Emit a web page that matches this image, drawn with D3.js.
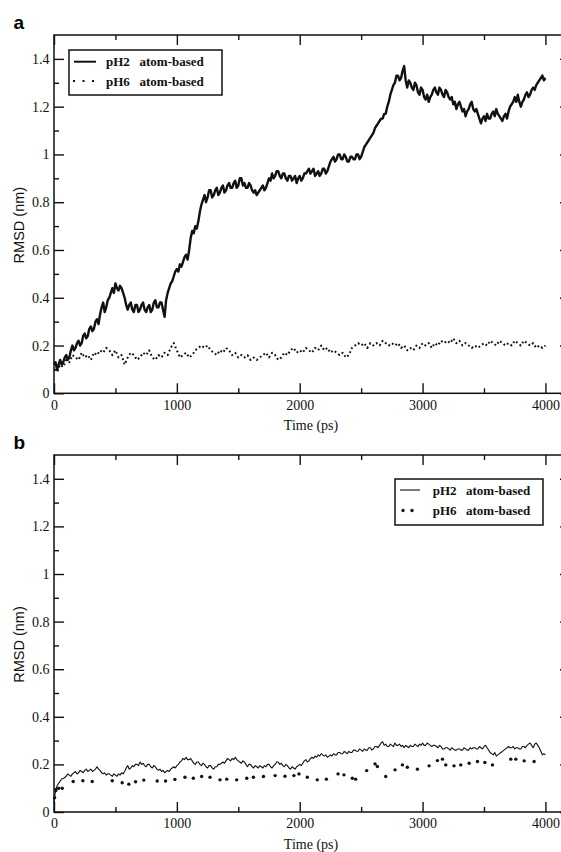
<!DOCTYPE html>
<html>
<head>
<meta charset="utf-8">
<script src="https://cdn.jsdelivr.net/npm/d3@7"></script>
<style>
body { margin: 0; background: #fff; }
svg { display: block; }
.tick text { font-family: "Liberation Serif", "Times New Roman", serif; font-size: 14px; fill: #111; }
.tick line { stroke: #111; stroke-width: 1.4; }
.legend-text { font-family: "Liberation Serif", "Times New Roman", serif; font-size: 13px; font-weight: bold; fill: #111; }
</style>
</head>
<body>
<svg width="561" height="852"></svg>
<script>
// Tick values and labels
const xTicks = [0, 1000, 2000, 3000, 4000]
const xMinor = [500, 1500, 2500, 3500]
const yTicks = [0, 0.2, 0.4, 0.6, 0.8, 1, 1.2, 1.4]
const yTickLabels = ['0', '0.2', '0.4', '0.6', '0.8', '1', '1.2', '1.4']
const yMinor = [0.1, 0.3, 0.5, 0.7, 0.9, 1.1, 1.3]

// Time axes (ps)
const time = d3.range(0, 4001, 25)
const timeFine = d3.range(0, 4000.1, 12.5)

// Panel a, pH2 atom-based (nm), every 12.5 ps
const aPH2 = [
  0.12, 0.13, 0.10, 0.12, 0.14, 0.12, 0.13, 0.15, 0.16, 0.14, 0.15, 0.18, 0.20, 0.18, 0.19, 0.21,
  0.22, 0.20, 0.21, 0.24, 0.25, 0.23, 0.24, 0.27, 0.28, 0.26, 0.27, 0.30, 0.31, 0.29, 0.33, 0.36,
  0.38, 0.34, 0.36, 0.39, 0.40, 0.42, 0.44, 0.42, 0.46, 0.44, 0.43, 0.45, 0.44, 0.42, 0.40, 0.37,
  0.35, 0.37, 0.38, 0.35, 0.34, 0.37, 0.37, 0.34, 0.35, 0.37, 0.38, 0.35, 0.34, 0.36, 0.37, 0.34,
  0.35, 0.38, 0.39, 0.36, 0.36, 0.38, 0.38, 0.35, 0.32, 0.39, 0.42, 0.44, 0.46, 0.47, 0.49, 0.51,
  0.52, 0.51, 0.54, 0.53, 0.55, 0.57, 0.58, 0.56, 0.60, 0.65, 0.68, 0.67, 0.70, 0.69, 0.72, 0.76,
  0.79, 0.81, 0.83, 0.80, 0.82, 0.85, 0.85, 0.82, 0.83, 0.85, 0.86, 0.83, 0.84, 0.86, 0.87, 0.84,
  0.85, 0.87, 0.88, 0.86, 0.86, 0.88, 0.89, 0.86, 0.87, 0.90, 0.90, 0.87, 0.88, 0.86, 0.86, 0.88,
  0.87, 0.85, 0.84, 0.85, 0.83, 0.84, 0.85, 0.86, 0.87, 0.85, 0.86, 0.88, 0.90, 0.89, 0.92, 0.90,
  0.91, 0.93, 0.93, 0.91, 0.90, 0.92, 0.92, 0.90, 0.89, 0.91, 0.91, 0.89, 0.90, 0.91, 0.88, 0.90,
  0.91, 0.89, 0.90, 0.92, 0.92, 0.93, 0.94, 0.92, 0.93, 0.94, 0.91, 0.92, 0.93, 0.91, 0.92, 0.94,
  0.94, 0.92, 0.93, 0.95, 0.97, 0.98, 0.99, 0.97, 0.98, 1.00, 1.00, 0.98, 0.98, 1.00, 0.99, 0.97,
  0.97, 0.99, 0.99, 0.98, 0.98, 1.00, 1.00, 0.98, 0.99, 1.01, 1.03, 1.04, 1.05, 1.06, 1.07, 1.08,
  1.09, 1.11, 1.12, 1.13, 1.14, 1.15, 1.15, 1.17, 1.17, 1.20, 1.22, 1.25, 1.27, 1.29, 1.30, 1.33,
  1.33, 1.31, 1.32, 1.35, 1.37, 1.31, 1.28, 1.31, 1.30, 1.28, 1.27, 1.30, 1.29, 1.26, 1.25, 1.28,
  1.27, 1.24, 1.23, 1.25, 1.22, 1.24, 1.25, 1.27, 1.28, 1.26, 1.25, 1.28, 1.27, 1.25, 1.24, 1.27,
  1.26, 1.24, 1.23, 1.24, 1.21, 1.22, 1.19, 1.21, 1.22, 1.20, 1.18, 1.19, 1.16, 1.18, 1.19, 1.21,
  1.22, 1.19, 1.18, 1.19, 1.17, 1.15, 1.13, 1.15, 1.16, 1.14, 1.17, 1.15, 1.15, 1.17, 1.18, 1.16,
  1.19, 1.17, 1.16, 1.15, 1.14, 1.16, 1.17, 1.15, 1.18, 1.20, 1.21, 1.22, 1.24, 1.22, 1.25, 1.22,
  1.20, 1.22, 1.23, 1.25, 1.26, 1.24, 1.25, 1.27, 1.28, 1.27, 1.29, 1.30, 1.31, 1.32, 1.33, 1.31,
  1.32
]

// Panel a, pH6 atom-based (nm), every 25 ps
const aPH6 = [
  0.10, 0.09, 0.12, 0.11, 0.14, 0.13, 0.16, 0.15, 0.14, 0.17, 0.15, 0.16, 0.14, 0.17, 0.16, 0.18,
  0.17, 0.19, 0.18, 0.16, 0.18, 0.15, 0.16, 0.12, 0.15, 0.17, 0.16, 0.14, 0.15, 0.17, 0.16, 0.18,
  0.15, 0.14, 0.16, 0.15, 0.17, 0.16, 0.19, 0.21, 0.18, 0.15, 0.16, 0.17, 0.15, 0.16, 0.18, 0.19,
  0.20, 0.19, 0.20, 0.18, 0.17, 0.16, 0.18, 0.17, 0.19, 0.18, 0.16, 0.17, 0.15, 0.16, 0.15, 0.16,
  0.14, 0.15, 0.14, 0.15, 0.16, 0.17, 0.15, 0.17, 0.16, 0.14, 0.15, 0.17, 0.16, 0.18, 0.19, 0.17,
  0.18, 0.17, 0.19, 0.18, 0.17, 0.19, 0.18, 0.20, 0.18, 0.19, 0.17, 0.18, 0.17, 0.16, 0.17, 0.15,
  0.16, 0.19, 0.20, 0.21, 0.20, 0.21, 0.19, 0.21, 0.20, 0.21, 0.20, 0.22, 0.21, 0.20, 0.21, 0.20,
  0.21, 0.19, 0.20, 0.18, 0.19, 0.18, 0.20, 0.19, 0.21, 0.20, 0.21, 0.19, 0.21, 0.20, 0.22, 0.21,
  0.22, 0.21, 0.23, 0.21, 0.22, 0.20, 0.21, 0.20, 0.19, 0.20, 0.19, 0.20, 0.21, 0.20, 0.22, 0.21,
  0.20, 0.22, 0.21, 0.20, 0.21, 0.20, 0.22, 0.21, 0.20, 0.22, 0.21, 0.20, 0.21, 0.19, 0.20, 0.19,
  0.20
]

// Panel b, pH2 atom-based (nm), every 12.5 ps
const bPH2 = [
  0.04, 0.09, 0.11, 0.12, 0.13, 0.14, 0.14, 0.145, 0.15, 0.16, 0.155, 0.15, 0.16, 0.165, 0.17, 0.16,
  0.165, 0.175, 0.17, 0.165, 0.175, 0.18, 0.17, 0.175, 0.18, 0.17, 0.175, 0.18, 0.19, 0.18, 0.175, 0.165,
  0.16, 0.165, 0.155, 0.16, 0.16, 0.155, 0.15, 0.16, 0.155, 0.15, 0.16, 0.155, 0.165, 0.16, 0.17, 0.185,
  0.195, 0.18, 0.185, 0.195, 0.19, 0.20, 0.20, 0.195, 0.21, 0.20, 0.205, 0.195, 0.19, 0.20, 0.20, 0.19,
  0.185, 0.195, 0.19, 0.18, 0.175, 0.18, 0.17, 0.175, 0.165, 0.17, 0.175, 0.17, 0.18, 0.185, 0.19, 0.185,
  0.195, 0.20, 0.21, 0.215, 0.225, 0.22, 0.23, 0.22, 0.22, 0.225, 0.215, 0.205, 0.20, 0.21, 0.21, 0.20,
  0.195, 0.205, 0.20, 0.19, 0.185, 0.195, 0.195, 0.185, 0.18, 0.19, 0.19, 0.20, 0.20, 0.205, 0.21, 0.205,
  0.215, 0.225, 0.22, 0.215, 0.225, 0.22, 0.23, 0.22, 0.215, 0.21, 0.205, 0.215, 0.21, 0.20, 0.19, 0.20,
  0.20, 0.19, 0.185, 0.195, 0.19, 0.185, 0.195, 0.19, 0.185, 0.195, 0.19, 0.20, 0.20, 0.19, 0.185, 0.195,
  0.20, 0.21, 0.21, 0.20, 0.205, 0.195, 0.19, 0.20, 0.195, 0.185, 0.18, 0.19, 0.185, 0.18, 0.19, 0.195,
  0.20, 0.195, 0.205, 0.215, 0.22, 0.21, 0.215, 0.225, 0.23, 0.225, 0.235, 0.23, 0.24, 0.235, 0.245, 0.24,
  0.235, 0.24, 0.23, 0.235, 0.24, 0.235, 0.245, 0.24, 0.24, 0.25, 0.25, 0.245, 0.245, 0.255, 0.25, 0.245,
  0.255, 0.25, 0.25, 0.26, 0.26, 0.255, 0.255, 0.265, 0.26, 0.255, 0.265, 0.26, 0.26, 0.27, 0.27, 0.26,
  0.265, 0.275, 0.275, 0.27, 0.28, 0.29, 0.295, 0.28, 0.285, 0.275, 0.275, 0.285, 0.28, 0.275, 0.29, 0.28,
  0.28, 0.285, 0.275, 0.28, 0.27, 0.28, 0.275, 0.27, 0.28, 0.275, 0.275, 0.285, 0.28, 0.275, 0.285, 0.28,
  0.29, 0.28, 0.28, 0.29, 0.285, 0.28, 0.275, 0.28, 0.28, 0.275, 0.27, 0.28, 0.275, 0.265, 0.265, 0.27,
  0.27, 0.265, 0.26, 0.27, 0.265, 0.26, 0.26, 0.265, 0.265, 0.26, 0.26, 0.27, 0.265, 0.26, 0.26, 0.27,
  0.265, 0.27, 0.27, 0.265, 0.265, 0.275, 0.27, 0.265, 0.275, 0.28, 0.27, 0.26, 0.25, 0.245, 0.24, 0.25,
  0.235, 0.24, 0.245, 0.25, 0.255, 0.26, 0.265, 0.27, 0.275, 0.27, 0.27, 0.275, 0.265, 0.27, 0.27, 0.265,
  0.265, 0.275, 0.275, 0.27, 0.28, 0.285, 0.29, 0.28, 0.27, 0.285, 0.29, 0.28, 0.27, 0.255, 0.24, 0.245,
  0.24
]

// Panel b, pH6 atom-based: sparse dotted samples (time ps, RMSD nm)
const bPH6Time = [
  5, 15, 38, 67, 156, 235, 311, 474, 555, 609, 664, 731, 840, 908, 984, 1066, 1134, 1202, 1270, 1351,
  1406, 1487, 1569, 1623, 1705, 1800, 1880, 1953, 1994, 2062, 2143, 2217, 2312, 2360, 2428, 2455, 2545,
  2613, 2632, 2700, 2776, 2836, 2876, 2958, 3053, 3121, 3162, 3189, 3256, 3311, 3379, 3447, 3507, 3569,
  3718, 3759, 3827, 3908
]
const bPH6 = [
  0.06, 0.09, 0.10, 0.10, 0.128, 0.131, 0.128, 0.131, 0.123, 0.117, 0.127, 0.134, 0.13, 0.13, 0.137, 0.146,
  0.142, 0.149, 0.146, 0.135, 0.138, 0.135, 0.142, 0.146, 0.149, 0.153, 0.15, 0.153, 0.16, 0.146, 0.135,
  0.138, 0.16, 0.156, 0.142, 0.138, 0.174, 0.202, 0.191, 0.149, 0.177, 0.198, 0.188, 0.18, 0.194, 0.216,
  0.222, 0.198, 0.194, 0.198, 0.205, 0.212, 0.208, 0.198, 0.222, 0.222, 0.215, 0.212
]

const svg = d3.select('svg')
const x = d3.scaleLinear().domain([0, 4200]).range([54, 570])

function drawPanel(top, bottom, letter, lines, dots, legend) {
  const y = d3.scaleLinear().domain([0, 1.5]).range([bottom, top])
  const g = svg.append('g')

  // minor ticks on all four sides
  g.append('g').attr('transform', `translate(${x(0)},0)`)
    .call(d3.axisLeft(y).tickValues(yMinor).tickFormat('').tickSizeInner(-5).tickSizeOuter(0))
  g.append('g').attr('transform', `translate(${x(4200)},0)`)
    .call(d3.axisRight(y).tickValues(yMinor).tickFormat('').tickSizeInner(-5).tickSizeOuter(0))
  g.append('g').attr('transform', `translate(0,${bottom})`)
    .call(d3.axisBottom(x).tickValues(xMinor).tickFormat('').tickSizeInner(-5).tickSizeOuter(0))
  g.append('g').attr('transform', `translate(0,${top})`)
    .call(d3.axisTop(x).tickValues(xMinor).tickFormat('').tickSizeInner(-5).tickSizeOuter(0))

  // major ticks
  g.append('g').attr('transform', `translate(${x(0)},0)`)
    .call(d3.axisLeft(y).tickValues(yTicks).tickFormat((d, i) => yTickLabels[i]).tickSizeInner(-10).tickSizeOuter(0).tickPadding(4.5))
  g.append('g').attr('transform', `translate(${x(4200)},0)`)
    .call(d3.axisRight(y).tickValues(yTicks).tickFormat('').tickSizeInner(-10).tickSizeOuter(0))
  g.append('g').attr('transform', `translate(0,${bottom})`)
    .call(d3.axisBottom(x).tickValues(xTicks).tickFormat(d => d).tickSizeInner(-10).tickSizeOuter(0).tickPadding(6.5))
  g.append('g').attr('transform', `translate(0,${top})`)
    .call(d3.axisTop(x).tickValues(xTicks).tickFormat('').tickSizeInner(-10).tickSizeOuter(0))

  g.selectAll('.domain').remove()

  // frame
  g.append('rect')
    .attr('x', x(0)).attr('y', top)
    .attr('width', x(4200) - x(0)).attr('height', bottom - top)
    .attr('fill', 'none').attr('stroke', '#111').attr('stroke-width', 1.5)

  // lines
  lines.forEach(s => {
    const line = d3.line().x((d, i) => x(s.t[i])).y(d => y(d))
    g.append('path')
      .datum(s.v)
      .attr('d', line)
      .attr('fill', 'none')
      .attr('stroke', '#111')
      .attr('stroke-width', s.width)
      .attr('stroke-linejoin', 'round')
      .attr('stroke-dasharray', s.dash || null)
  })

  // dots
  dots.forEach(s => {
    g.selectAll(null)
      .data(s.v)
      .enter()
      .append('circle')
      .attr('cx', (d, i) => x(s.t[i]))
      .attr('cy', d => y(d))
      .attr('r', 1.7)
      .attr('fill', '#111')
  })

  // panel letter
  g.append('text')
    .attr('x', 13.5).attr('y', top - 6.5)
    .style('font-family', '"Liberation Sans", Arial, sans-serif')
    .style('font-size', '19px').style('font-weight', 'bold')
    .text(letter)

  // x label
  g.append('text')
    .attr('x', 311).attr('y', bottom + 37)
    .attr('text-anchor', 'middle')
    .style('font-family', '"Liberation Serif", "Times New Roman", serif')
    .style('font-size', '14px').attr('fill', '#111')
    .text('Time (ps)')

  // y label
  g.append('text')
    .attr('transform', `translate(24,${(top + bottom) / 2 + 11}) rotate(-90)`)
    .attr('text-anchor', 'middle')
    .style('font-family', '"Liberation Sans", Arial, sans-serif')
    .style('font-size', '14.5px').attr('fill', '#111')
    .text('RMSD (nm)')

  // legend
  const L = legend
  g.append('rect')
    .attr('x', L.x).attr('y', L.y).attr('width', L.w).attr('height', L.h)
    .attr('fill', '#fff').attr('stroke', '#111').attr('stroke-width', 1.5)
  L.rows.forEach((r, i) => {
    const yy = L.y + L.rowY[i]
    if (r.kind === 'line') {
      g.append('line')
        .attr('x1', L.x + 5).attr('x2', L.x + 5 + L.sample)
        .attr('y1', yy).attr('y2', yy)
        .attr('stroke', '#111').attr('stroke-width', r.width)
    } else if (r.kind === 'dash') {
      g.append('line')
        .attr('x1', L.x + 4).attr('x2', L.x + 4 + L.sample)
        .attr('y1', yy).attr('y2', yy)
        .attr('stroke', '#111').attr('stroke-width', 2)
        .attr('stroke-dasharray', '2 7.5')
    } else {
      g.selectAll(null).data([0, 9]).enter().append('circle')
        .attr('cx', d => L.x + 8 + d).attr('cy', yy).attr('r', 1.7).attr('fill', '#111')
    }
    g.append('text').attr('class', 'legend-text')
      .attr('x', L.textX).attr('y', yy + 4.5).text(r.name)
    g.append('text').attr('class', 'legend-text')
      .attr('x', L.textX2).attr('y', yy + 4.5).text('atom-based')
  })
}

drawPanel(35, 393.3, 'a',
  [
    { t: timeFine, v: aPH2, width: 2.4 },
    { t: time, v: aPH6, width: 2, dash: '1.8 2.6' }
  ],
  [],
  { x: 69, y: 50, w: 153, h: 45, sample: 22, rowY: [11.7, 31], textX: 106, textX2: 139.5,
    rows: [{ kind: 'line', name: 'pH2', width: 2 }, { kind: 'dash', name: 'pH6' }] }
)

drawPanel(455, 812, 'b',
  [
    { t: timeFine, v: bPH2, width: 1.1 }
  ],
  [
    { t: bPH6Time, v: bPH6 }
  ],
  { x: 395, y: 479, w: 148, h: 46, sample: 20, rowY: [11, 31.5], textX: 432.7, textX2: 466,
    rows: [{ kind: 'line', name: 'pH2', width: 1.1 }, { kind: 'dots', name: 'pH6' }] }
)
</script>
</body>
</html>
